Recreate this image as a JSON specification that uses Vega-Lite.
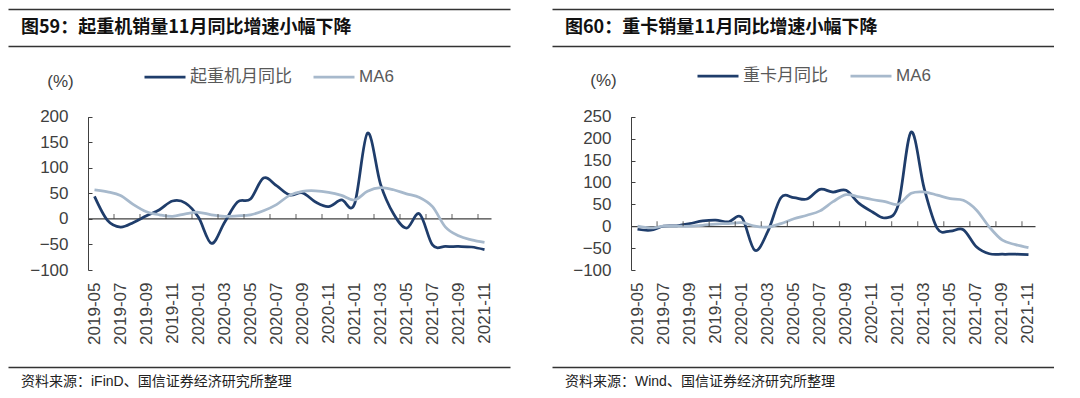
{
  "$schema": "https://vega.github.io/schema/vega-lite/v6.json",
  "background": "white",
  "padding": {"left": 8, "top": 9, "right": 0, "bottom": 0},
  "config": {"view": {"stroke": null}, "font": "Liberation Sans"},
  "datasets": {
    "crane": [
      {"m":"2019-05","s":"起重机月同比","v":44},{"m":"2019-06","s":"起重机月同比","v":-3},{"m":"2019-07","s":"起重机月同比","v":-16},{"m":"2019-08","s":"起重机月同比","v":-7},{"m":"2019-09","s":"起重机月同比","v":6},{"m":"2019-10","s":"起重机月同比","v":18},{"m":"2019-11","s":"起重机月同比","v":35},{"m":"2019-12","s":"起重机月同比","v":31},{"m":"2020-01","s":"起重机月同比","v":3},{"m":"2020-02","s":"起重机月同比","v":-48},{"m":"2020-03","s":"起重机月同比","v":-7},{"m":"2020-04","s":"起重机月同比","v":33},{"m":"2020-05","s":"起重机月同比","v":39},{"m":"2020-06","s":"起重机月同比","v":80},{"m":"2020-07","s":"起重机月同比","v":65},{"m":"2020-08","s":"起重机月同比","v":47},{"m":"2020-09","s":"起重机月同比","v":51},{"m":"2020-10","s":"起重机月同比","v":33},{"m":"2020-11","s":"起重机月同比","v":24},{"m":"2020-12","s":"起重机月同比","v":37},{"m":"2021-01","s":"起重机月同比","v":29},{"m":"2021-02","s":"起重机月同比","v":168},{"m":"2021-03","s":"起重机月同比","v":68},{"m":"2021-04","s":"起重机月同比","v":10},{"m":"2021-05","s":"起重机月同比","v":-18},{"m":"2021-06","s":"起重机月同比","v":10},{"m":"2021-07","s":"起重机月同比","v":-51},{"m":"2021-08","s":"起重机月同比","v":-54},{"m":"2021-09","s":"起重机月同比","v":-54},{"m":"2021-10","s":"起重机月同比","v":-55},{"m":"2021-11","s":"起重机月同比","v":-60},
      {"m":"2019-05","s":"MA6","v":57},{"m":"2019-06","s":"MA6","v":53},{"m":"2019-07","s":"MA6","v":46},{"m":"2019-08","s":"MA6","v":28},{"m":"2019-09","s":"MA6","v":14},{"m":"2019-10","s":"MA6","v":8},{"m":"2019-11","s":"MA6","v":5},{"m":"2019-12","s":"MA6","v":10},{"m":"2020-01","s":"MA6","v":13},{"m":"2020-02","s":"MA6","v":8},{"m":"2020-03","s":"MA6","v":5},{"m":"2020-04","s":"MA6","v":6},{"m":"2020-05","s":"MA6","v":8},{"m":"2020-06","s":"MA6","v":16},{"m":"2020-07","s":"MA6","v":28},{"m":"2020-08","s":"MA6","v":46},{"m":"2020-09","s":"MA6","v":54},{"m":"2020-10","s":"MA6","v":55},{"m":"2020-11","s":"MA6","v":52},{"m":"2020-12","s":"MA6","v":46},{"m":"2021-01","s":"MA6","v":37},{"m":"2021-02","s":"MA6","v":54},{"m":"2021-03","s":"MA6","v":61},{"m":"2021-04","s":"MA6","v":57},{"m":"2021-05","s":"MA6","v":49},{"m":"2021-06","s":"MA6","v":42},{"m":"2021-07","s":"MA6","v":24},{"m":"2021-08","s":"MA6","v":-16},{"m":"2021-09","s":"MA6","v":-33},{"m":"2021-10","s":"MA6","v":-41},{"m":"2021-11","s":"MA6","v":-46}
    ],
    "truck": [
      {"m":"2019-05","s":"重卡月同比","v":-7},{"m":"2019-06","s":"重卡月同比","v":-9},{"m":"2019-07","s":"重卡月同比","v":0},{"m":"2019-08","s":"重卡月同比","v":1},{"m":"2019-09","s":"重卡月同比","v":6},{"m":"2019-10","s":"重卡月同比","v":12},{"m":"2019-11","s":"重卡月同比","v":14},{"m":"2019-12","s":"重卡月同比","v":10},{"m":"2020-01","s":"重卡月同比","v":20},{"m":"2020-02","s":"重卡月同比","v":-55},{"m":"2020-03","s":"重卡月同比","v":-12},{"m":"2020-04","s":"重卡月同比","v":65},{"m":"2020-05","s":"重卡月同比","v":65},{"m":"2020-06","s":"重卡月同比","v":62},{"m":"2020-07","s":"重卡月同比","v":84},{"m":"2020-08","s":"重卡月同比","v":78},{"m":"2020-09","s":"重卡月同比","v":82},{"m":"2020-10","s":"重卡月同比","v":52},{"m":"2020-11","s":"重卡月同比","v":33},{"m":"2020-12","s":"重卡月同比","v":19},{"m":"2021-01","s":"重卡月同比","v":48},{"m":"2021-02","s":"重卡月同比","v":215},{"m":"2021-03","s":"重卡月同比","v":86},{"m":"2021-04","s":"重卡月同比","v":-5},{"m":"2021-05","s":"重卡月同比","v":-11},{"m":"2021-06","s":"重卡月同比","v":-8},{"m":"2021-07","s":"重卡月同比","v":-47},{"m":"2021-08","s":"重卡月同比","v":-63},{"m":"2021-09","s":"重卡月同比","v":-64},{"m":"2021-10","s":"重卡月同比","v":-64},{"m":"2021-11","s":"重卡月同比","v":-65},
      {"m":"2019-05","s":"MA6","v":0},{"m":"2019-06","s":"MA6","v":-4},{"m":"2019-07","s":"MA6","v":0},{"m":"2019-08","s":"MA6","v":0},{"m":"2019-09","s":"MA6","v":0},{"m":"2019-10","s":"MA6","v":2},{"m":"2019-11","s":"MA6","v":5},{"m":"2019-12","s":"MA6","v":6},{"m":"2020-01","s":"MA6","v":8},{"m":"2020-02","s":"MA6","v":0},{"m":"2020-03","s":"MA6","v":-2},{"m":"2020-04","s":"MA6","v":6},{"m":"2020-05","s":"MA6","v":17},{"m":"2020-06","s":"MA6","v":25},{"m":"2020-07","s":"MA6","v":35},{"m":"2020-08","s":"MA6","v":56},{"m":"2020-09","s":"MA6","v":72},{"m":"2020-10","s":"MA6","v":67},{"m":"2020-11","s":"MA6","v":61},{"m":"2020-12","s":"MA6","v":56},{"m":"2021-01","s":"MA6","v":50},{"m":"2021-02","s":"MA6","v":75},{"m":"2021-03","s":"MA6","v":78},{"m":"2021-04","s":"MA6","v":71},{"m":"2021-05","s":"MA6","v":63},{"m":"2021-06","s":"MA6","v":59},{"m":"2021-07","s":"MA6","v":37},{"m":"2021-08","s":"MA6","v":-2},{"m":"2021-09","s":"MA6","v":-32},{"m":"2021-10","s":"MA6","v":-42},{"m":"2021-11","s":"MA6","v":-49}
    ]
  },
  "concat": [
    {
      "width": 502, "height": 37,
      "data": {"values": [{"t": "图59：起重机销量11月同比增速小幅下降"}]},
      "mark": {"type": "text", "align": "left", "baseline": "middle", "dx": 13, "font": "Noto Sans CJK SC", "fontSize": 18, "fontWeight": "bold", "color": "#111111"},
      "encoding": {
        "text": {"field": "t"},
        "x": {"datum": 0, "type": "quantitative", "scale": {"domain": [0, 1]}, "axis": null},
        "y": {"datum": 0.5, "type": "quantitative", "scale": {"domain": [0, 1]}, "axis": {"values": [0, 1], "grid": true, "gridColor": "#333333", "gridWidth": 1.3, "gridOpacity": 1, "domain": false, "ticks": false, "labels": false, "title": null}}
      }
    },
    {
      "width": 502, "height": 37,
      "data": {"values": [{"t": "图60：重卡销量11月同比增速小幅下降"}]},
      "mark": {"type": "text", "align": "left", "baseline": "middle", "dx": 13, "font": "Noto Sans CJK SC", "fontSize": 18, "fontWeight": "bold", "color": "#111111"},
      "encoding": {
        "text": {"field": "t"},
        "x": {"datum": 0, "type": "quantitative", "scale": {"domain": [0, 1]}, "axis": null},
        "y": {"datum": 0.5, "type": "quantitative", "scale": {"domain": [0, 1]}, "axis": {"values": [0, 1], "grid": true, "gridColor": "#333333", "gridWidth": 1.3, "gridOpacity": 1, "domain": false, "ticks": false, "labels": false, "title": null}}
      }
    },
    {
      "width": 502, "height": 321,
      "data": {"name": "crane"},
      "layer": [
        {
          "mark": {"type": "line", "interpolate": "cardinal", "strokeWidth": 2.75},
          "encoding": {
            "x": {"field": "m", "type": "ordinal", "scale": {"type": "band", "range": [80, 483], "paddingInner": 0, "paddingOuter": 0},
              "axis": {"orient": "bottom", "offset": -97, "domain": false, "ticks": false, "tickSize": 0, "grid": false, "title": null, "labelAngle": -90, "labelPadding": 12, "labelFont": "Liberation Sans", "labelFontSize": 17, "labelColor": "#404040",
                "values": ["2019-05","2019-07","2019-09","2019-11","2020-01","2020-03","2020-05","2020-07","2020-09","2020-11","2021-01","2021-03","2021-05","2021-07","2021-09","2021-11"],
                "encode": {"labels": {"update": {"dx": {"signal": "-4.5 - 13.3 * datum.index"}}}}}},
            "y": {"field": "v", "type": "quantitative", "scale": {"domain": [-100, 200], "range": [224, 70.7], "nice": false, "zero": false},
              "axis": {"orient": "left", "offset": -80, "values": [-100, -50, 0, 50, 100, 150, 200], "grid": false, "domain": true, "domainColor": "#404040", "ticks": true, "tickSize": -4, "tickColor": "#404040", "labelPadding": 24, "labelFont": "Liberation Sans", "labelFontSize": 17, "labelColor": "#404040",
                "title": "(%)", "titleAngle": 0, "titleX": -28, "titleY": 35.7, "titleAlign": "center", "titleBaseline": "middle", "titleFont": "Liberation Sans", "titleFontSize": 17, "titleFontWeight": "normal", "titleColor": "#404040"}},
            "color": {"field": "s", "type": "nominal", "scale": {"domain": ["起重机月同比", "MA6"], "range": ["#1F3D6B", "#A7B9CC"]},
              "legend": {"orient": "none", "legendX": 135, "legendY": 9, "direction": "horizontal", "title": null, "symbolType": "stroke", "symbolSize": 1681, "symbolStrokeWidth": 2.75, "labelFont": "Liberation Sans, Noto Sans CJK SC", "labelFontSize": 17, "labelColor": "#595959", "labelOffset": 3, "columnPadding": 16}}
          }
        },
        {
          "transform": [
            {"filter": {"field": "s", "equal": "MA6"}},
            {"filter": {"field": "m", "oneOf": ["2019-07","2019-09","2019-11","2020-01","2020-03","2020-05","2020-07","2020-09","2020-11","2021-01","2021-03","2021-05","2021-07","2021-09","2021-11"]}}
          ],
          "mark": {"type": "tick", "orient": "vertical", "size": 5, "thickness": 1.2, "yOffset": -2.5, "color": "#404040"},
          "encoding": {
            "x": {"field": "m", "type": "ordinal", "bandPosition": 0,
              "axis": {"orient": "top", "offset": -172.3, "domain": true, "domainColor": "#404040", "domainWidth": 1.2, "ticks": false, "labels": false, "grid": false, "title": null}},
            "y": {"datum": 0, "type": "quantitative", "axis": null}
          }
        }
      ],
      "resolve": {"axis": {"x": "independent", "y": "independent"}}
    },
    {
      "width": 502, "height": 321,
      "data": {"name": "truck"},
      "layer": [
        {
          "mark": {"type": "line", "interpolate": "cardinal", "strokeWidth": 2.75},
          "encoding": {
            "x": {"field": "m", "type": "ordinal", "scale": {"type": "band", "range": [79, 483], "paddingInner": 0, "paddingOuter": 0},
              "axis": {"orient": "bottom", "offset": -97, "domain": false, "ticks": false, "tickSize": 0, "grid": false, "title": null, "labelAngle": -90, "labelPadding": 12, "labelFont": "Liberation Sans", "labelFontSize": 17, "labelColor": "#404040",
                "values": ["2019-05","2019-07","2019-09","2019-11","2020-01","2020-03","2020-05","2020-07","2020-09","2020-11","2021-01","2021-03","2021-05","2021-07","2021-09","2021-11"],
                "encode": {"labels": {"update": {"dx": {"signal": "-2.2 - 15.8 * datum.index"}}}}}},
            "y": {"field": "v", "type": "quantitative", "scale": {"domain": [-100, 250], "range": [224, 70.7], "nice": false, "zero": false},
              "axis": {"orient": "left", "offset": -79, "values": [-100, -50, 0, 50, 100, 150, 200, 250], "grid": false, "domain": true, "domainColor": "#404040", "ticks": true, "tickSize": -4, "tickColor": "#404040", "labelPadding": 24, "labelFont": "Liberation Sans", "labelFontSize": 17, "labelColor": "#404040",
                "title": "(%)", "titleAngle": 0, "titleX": -28, "titleY": 34.7, "titleAlign": "center", "titleBaseline": "middle", "titleFont": "Liberation Sans", "titleFontSize": 17, "titleFontWeight": "normal", "titleColor": "#404040"}},
            "color": {"field": "s", "type": "nominal", "scale": {"domain": ["重卡月同比", "MA6"], "range": ["#1F3D6B", "#A7B9CC"]},
              "legend": {"orient": "none", "legendX": 144, "legendY": 8, "direction": "horizontal", "title": null, "symbolType": "stroke", "symbolSize": 1681, "symbolStrokeWidth": 2.75, "labelFont": "Liberation Sans, Noto Sans CJK SC", "labelFontSize": 17, "labelColor": "#595959", "labelOffset": 3, "columnPadding": 17}}
          }
        },
        {
          "transform": [
            {"filter": {"field": "s", "equal": "MA6"}},
            {"filter": {"field": "m", "oneOf": ["2019-07","2019-09","2019-11","2020-01","2020-03","2020-05","2020-07","2020-09","2020-11","2021-01","2021-03","2021-05","2021-07","2021-09","2021-11"]}}
          ],
          "mark": {"type": "tick", "orient": "vertical", "size": 5, "thickness": 1.2, "yOffset": -2.5, "color": "#404040"},
          "encoding": {
            "x": {"field": "m", "type": "ordinal", "bandPosition": 0,
              "axis": {"orient": "top", "offset": -180.2, "domain": true, "domainColor": "#404040", "domainWidth": 1.2, "ticks": false, "labels": false, "grid": false, "title": null}},
            "y": {"datum": 0, "type": "quantitative", "axis": null}
          }
        }
      ],
      "resolve": {"axis": {"x": "independent", "y": "independent"}}
    },
    {
      "width": 502, "height": 28,
      "data": {"values": [{"t": "资料来源：iFinD、国信证券经济研究所整理"}]},
      "mark": {"type": "text", "align": "left", "baseline": "middle", "dx": 13, "font": "Liberation Sans, Noto Sans CJK SC", "fontSize": 14, "color": "#222222"},
      "encoding": {
        "text": {"field": "t"},
        "x": {"datum": 0, "type": "quantitative", "scale": {"domain": [0, 1]}, "axis": null},
        "y": {"datum": 0.475, "type": "quantitative", "scale": {"domain": [0, 1]}, "axis": {"values": [1], "grid": true, "gridColor": "#333333", "gridWidth": 1.3, "gridOpacity": 1, "domain": false, "ticks": false, "labels": false, "title": null}}
      }
    },
    {
      "width": 502, "height": 28,
      "data": {"values": [{"t": "资料来源：Wind、国信证券经济研究所整理"}]},
      "mark": {"type": "text", "align": "left", "baseline": "middle", "dx": 13, "font": "Liberation Sans, Noto Sans CJK SC", "fontSize": 14, "color": "#222222"},
      "encoding": {
        "text": {"field": "t"},
        "x": {"datum": 0, "type": "quantitative", "scale": {"domain": [0, 1]}, "axis": null},
        "y": {"datum": 0.475, "type": "quantitative", "scale": {"domain": [0, 1]}, "axis": {"values": [1], "grid": true, "gridColor": "#333333", "gridWidth": 1.3, "gridOpacity": 1, "domain": false, "ticks": false, "labels": false, "title": null}}
      }
    }
  ],
  "columns": 2,
  "spacing": {"row": 0, "column": 42},
  "bounds": "flush",
  "resolve": {"scale": {"color": "independent"}, "legend": {"color": "independent"}}
}
